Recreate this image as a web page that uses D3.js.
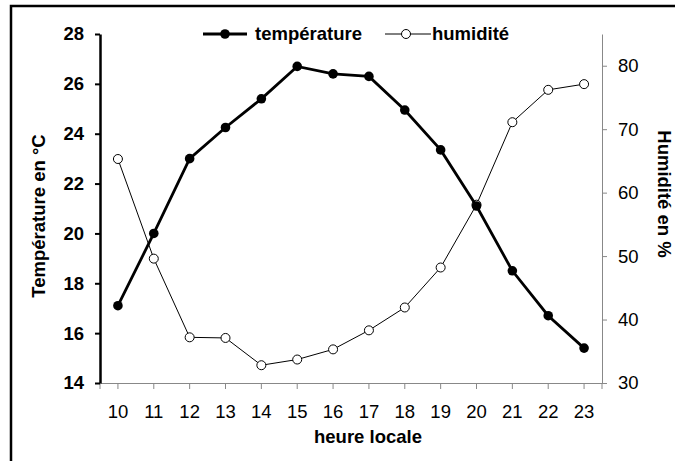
<!DOCTYPE html>
<html lang="fr">
<head>
<meta charset="UTF-8">
<script src="https://d3js.org/d3.v7.min.js"></script>
<style>
    body { margin: 0; background: #fff; }
    svg { display: block; font-family: 'Liberation Sans', Arial, sans-serif; }
</style>
</head>
<body>
<div id="chart"></div>
<script>
    // Data
    const hours = [10, 11, 12, 13, 14, 15, 16, 17, 18, 19, 20, 21, 22, 23];
    const temperature = [17.1, 20.0, 23.0, 24.25, 25.4, 26.7, 26.4, 26.3, 24.95, 23.35, 21.1, 18.5, 16.7, 15.4];
    const humidity = [65.3, 49.6, 37.2, 37.1, 32.8, 33.7, 35.3, 38.3, 41.9, 48.2, 58.1, 71.1, 76.2, 77.1];
    const tempTicks = [14, 16, 18, 20, 22, 24, 26, 28];
    const humTicks = [30, 40, 50, 60, 70, 80];

    const width = 675, height = 461;
    const plot = { left: 100, right: 602, top: 34, bottom: 383 };
    const fs = 18.5;

    const svg = d3.select('#chart').append('svg')
        .attr('width', width)
        .attr('height', height);

    // outer frame (only left/top edges visible in the picture)
    svg.append('rect')
        .attr('x', 11).attr('y', 6)
        .attr('width', 700).attr('height', 500)
        .attr('fill', 'none')
        .attr('stroke', '#000')
        .attr('stroke-width', 2.5);

    const x = d3.scaleBand()
        .domain(hours)
        .range([plot.left, plot.right]);
    const cx = h => x(h) + x.bandwidth() / 2;

    const yT = d3.scaleLinear().domain([14, 28]).range([plot.bottom, plot.top]);
    const yH = d3.scaleLinear().domain([30, 85]).range([plot.bottom, plot.top]);

    // x axis (gray)
    const xAxis = svg.append('g')
        .attr('transform', `translate(0,${plot.bottom})`)
        .call(d3.axisBottom(x).tickSize(6).tickSizeOuter(0).tickPadding(16));
    xAxis.select('.domain').attr('stroke', '#888');
    xAxis.selectAll('.tick line').attr('stroke', '#888');
    xAxis.selectAll('text').attr('font-size', fs).attr('fill', '#000');
    // small drops at both ends
    [plot.left, plot.right].forEach(px => {
        svg.append('line')
            .attr('x1', px).attr('x2', px)
            .attr('y1', plot.bottom).attr('y2', plot.bottom + 6)
            .attr('stroke', '#888');
    });

    // right axis (gray)
    const rAxis = svg.append('g')
        .attr('transform', `translate(${plot.right},0)`)
        .call(d3.axisRight(yH).tickValues(humTicks).tickSize(5).tickSizeOuter(0).tickPadding(11));
    rAxis.select('.domain').attr('stroke', '#888');
    rAxis.selectAll('.tick line').attr('stroke', '#888');
    rAxis.selectAll('text').attr('font-size', fs).attr('fill', '#000');

    // left axis (black, bold)
    const lAxis = svg.append('g')
        .attr('transform', `translate(${plot.left},0)`)
        .call(d3.axisLeft(yT).tickValues(tempTicks).tickSize(5).tickSizeOuter(0).tickPadding(11));
    lAxis.select('.domain').attr('stroke', '#000').attr('stroke-width', 2.5);
    lAxis.selectAll('.tick line').attr('stroke', '#000').attr('stroke-width', 2);
    lAxis.selectAll('text').attr('font-size', fs).attr('font-weight', 'bold').attr('fill', '#000');

    // humidity series
    const humLine = d3.line().x((d, i) => cx(hours[i])).y(d => yH(d));
    svg.append('path')
        .datum(humidity)
        .attr('d', humLine)
        .attr('fill', 'none')
        .attr('stroke', '#000')
        .attr('stroke-width', 1);
    svg.selectAll('.hum-pt')
        .data(humidity)
        .enter().append('circle')
        .attr('class', 'hum-pt')
        .attr('cx', (d, i) => cx(hours[i]))
        .attr('cy', d => yH(d))
        .attr('r', 4.5)
        .attr('fill', '#fff')
        .attr('stroke', '#000')
        .attr('stroke-width', 1);

    // temperature series
    const tempLine = d3.line().x((d, i) => cx(hours[i])).y(d => yT(d));
    svg.append('path')
        .datum(temperature)
        .attr('d', tempLine)
        .attr('fill', 'none')
        .attr('stroke', '#000')
        .attr('stroke-width', 2.8);
    svg.selectAll('.temp-pt')
        .data(temperature)
        .enter().append('circle')
        .attr('class', 'temp-pt')
        .attr('cx', (d, i) => cx(hours[i]))
        .attr('cy', d => yT(d))
        .attr('r', 4.8)
        .attr('fill', '#000');

    // axis titles
    svg.append('text')
        .attr('transform', `translate(45,216) rotate(-90)`)
        .attr('text-anchor', 'middle')
        .attr('font-size', fs).attr('font-weight', 'bold')
        .text('Température en °C');
    svg.append('text')
        .attr('transform', `translate(658,194) rotate(90)`)
        .attr('text-anchor', 'middle')
        .attr('font-size', fs).attr('font-weight', 'bold')
        .text('Humidité en %');
    svg.append('text')
        .attr('x', 368)
        .attr('y', 443)
        .attr('text-anchor', 'middle')
        .attr('font-size', fs).attr('font-weight', 'bold')
        .text('heure locale');

    // legend
    const legY = 34;
    const leg = svg.append('g');
    leg.append('line').attr('x1', 203).attr('x2', 247).attr('y1', legY).attr('y2', legY)
        .attr('stroke', '#000').attr('stroke-width', 2.8);
    leg.append('circle').attr('cx', 225).attr('cy', legY).attr('r', 4.8).attr('fill', '#000');
    leg.append('text').attr('x', 255).attr('y', legY + 6)
        .attr('font-size', fs).attr('font-weight', 'bold').text('température');
    leg.append('line').attr('x1', 385).attr('x2', 431).attr('y1', legY).attr('y2', legY)
        .attr('stroke', '#000').attr('stroke-width', 1);
    leg.append('circle').attr('cx', 406).attr('cy', legY).attr('r', 4.5)
        .attr('fill', '#fff').attr('stroke', '#000');
    leg.append('text').attr('x', 432).attr('y', legY + 6)
        .attr('font-size', fs).attr('font-weight', 'bold').text('humidité');
</script>
</body>
</html>
